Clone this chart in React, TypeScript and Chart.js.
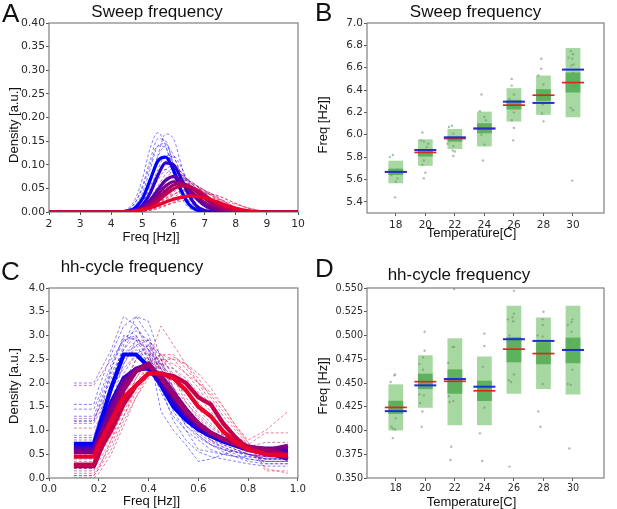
import React, { useEffect, useRef } from "react";
import { Chart, registerables } from "chart.js";
Chart.register(...registerables);

// ---------- shared ----------
const temperatures = [18, 20, 22, 24, 26, 28, 30];
const tempColors = ["rgb(0,0,255)", "rgb(45,0,210)", "rgb(90,0,170)", "rgb(125,0,135)", "rgb(160,0,110)", "rgb(195,0,75)", "rgb(235,0,45)"];

// ---------- Panel A: sweep frequency densities ----------
const sweepFreqGrid = [2, 4, 4.5, 4.75, 5, 5.25, 5.5, 5.75, 6, 6.25, 6.5, 6.75, 7, 7.25, 7.5, 7.75, 8, 8.5, 9, 10];
const sweepXTicks = [2, 3, 4, 5, 6, 7, 8, 9, 10];
const sweepDensityTicks = [0, 0.05, 0.1, 0.15, 0.2, 0.25, 0.3, 0.35, 0.4];

const sweepMean18 = [0, 0, 0.002, 0.008, 0.028, 0.068, 0.108, 0.116, 0.088, 0.045, 0.016, 0.004, 0.001, 0, 0, 0, 0, 0, 0, 0];
const sweepMean20 = [0, 0, 0.001, 0.004, 0.014, 0.04, 0.078, 0.104, 0.1, 0.07, 0.035, 0.012, 0.003, 0.001, 0, 0, 0, 0, 0, 0];
const sweepMean22 = [0, 0, 0.001, 0.003, 0.01, 0.025, 0.047, 0.067, 0.075, 0.066, 0.047, 0.028, 0.014, 0.006, 0.002, 0.001, 0, 0, 0, 0];
const sweepMean24 = [0, 0, 0.001, 0.003, 0.009, 0.02, 0.038, 0.055, 0.064, 0.06, 0.048, 0.033, 0.02, 0.01, 0.005, 0.002, 0.001, 0, 0, 0];
const sweepMean26 = [0, 0, 0, 0.002, 0.006, 0.015, 0.03, 0.045, 0.057, 0.06, 0.055, 0.043, 0.029, 0.017, 0.009, 0.004, 0.002, 0, 0, 0];
const sweepMean28 = [0, 0, 0, 0.001, 0.004, 0.011, 0.023, 0.037, 0.049, 0.055, 0.054, 0.047, 0.036, 0.024, 0.014, 0.007, 0.003, 0.001, 0, 0];
const sweepMean30 = [0, 0, 0.001, 0.002, 0.005, 0.009, 0.015, 0.021, 0.027, 0.031, 0.034, 0.033, 0.03, 0.025, 0.019, 0.013, 0.008, 0.002, 0, 0];

const sweepTrials18 = [
  [0, 0, 0.006, 0.025, 0.07, 0.135, 0.168, 0.14, 0.08, 0.032, 0.009, 0.002, 0, 0, 0, 0, 0, 0, 0, 0],
  [0, 0, 0.003, 0.012, 0.04, 0.09, 0.14, 0.145, 0.1, 0.05, 0.018, 0.005, 0.001, 0, 0, 0, 0, 0, 0, 0],
  [0, 0, 0.003, 0.01, 0.03, 0.055, 0.082, 0.09, 0.075, 0.048, 0.024, 0.009, 0.003, 0.001, 0, 0, 0, 0, 0, 0],
  [0, 0, 0.004, 0.018, 0.05, 0.1, 0.14, 0.135, 0.095, 0.05, 0.02, 0.006, 0.001, 0, 0, 0, 0, 0, 0, 0],
];
const sweepTrials20 = [
  [0, 0, 0.001, 0.005, 0.02, 0.06, 0.12, 0.165, 0.155, 0.1, 0.045, 0.014, 0.003, 0.001, 0, 0, 0, 0, 0, 0],
  [0, 0, 0.004, 0.018, 0.055, 0.11, 0.155, 0.15, 0.1, 0.048, 0.016, 0.004, 0.001, 0, 0, 0, 0, 0, 0, 0],
  [0, 0, 0.001, 0.004, 0.015, 0.04, 0.075, 0.108, 0.118, 0.095, 0.058, 0.027, 0.01, 0.003, 0.001, 0, 0, 0, 0, 0],
  [0, 0, 0.002, 0.008, 0.028, 0.07, 0.118, 0.14, 0.12, 0.075, 0.035, 0.012, 0.003, 0.001, 0, 0, 0, 0, 0, 0],
];
const sweepTrials22 = [
  [0, 0, 0.002, 0.007, 0.022, 0.05, 0.09, 0.12, 0.115, 0.08, 0.042, 0.017, 0.006, 0.002, 0, 0, 0, 0, 0, 0],
  [0, 0, 0.001, 0.003, 0.009, 0.022, 0.042, 0.062, 0.076, 0.078, 0.066, 0.047, 0.028, 0.014, 0.006, 0.002, 0.001, 0, 0, 0],
  [0, 0, 0.002, 0.006, 0.018, 0.04, 0.068, 0.09, 0.098, 0.085, 0.058, 0.032, 0.014, 0.005, 0.002, 0, 0, 0, 0, 0],
  [0, 0, 0.001, 0.004, 0.012, 0.03, 0.055, 0.08, 0.092, 0.085, 0.063, 0.038, 0.018, 0.007, 0.002, 0.001, 0, 0, 0, 0],
];
const sweepTrials24 = [
  [0, 0, 0.001, 0.004, 0.012, 0.028, 0.05, 0.072, 0.084, 0.08, 0.062, 0.04, 0.021, 0.009, 0.003, 0.001, 0, 0, 0, 0],
  [0, 0, 0, 0.002, 0.006, 0.015, 0.03, 0.047, 0.06, 0.068, 0.066, 0.055, 0.04, 0.025, 0.013, 0.006, 0.002, 0, 0, 0],
  [0, 0, 0.002, 0.006, 0.014, 0.026, 0.038, 0.047, 0.05, 0.047, 0.04, 0.031, 0.022, 0.014, 0.008, 0.004, 0.002, 0, 0, 0],
  [0, 0, 0.001, 0.003, 0.008, 0.018, 0.033, 0.05, 0.065, 0.072, 0.068, 0.054, 0.037, 0.022, 0.011, 0.005, 0.002, 0, 0, 0],
];
const sweepTrials26 = [
  [0, 0, 0, 0.002, 0.006, 0.016, 0.033, 0.053, 0.068, 0.074, 0.066, 0.048, 0.03, 0.015, 0.007, 0.003, 0.001, 0, 0, 0],
  [0, 0, 0, 0.001, 0.003, 0.008, 0.017, 0.029, 0.042, 0.052, 0.058, 0.055, 0.046, 0.034, 0.022, 0.012, 0.006, 0.001, 0, 0],
  [0, 0, 0, 0.001, 0.002, 0.005, 0.01, 0.018, 0.027, 0.036, 0.043, 0.045, 0.042, 0.035, 0.026, 0.017, 0.01, 0.002, 0, 0],
  [0, 0, 0, 0.001, 0.004, 0.011, 0.024, 0.041, 0.057, 0.066, 0.065, 0.055, 0.04, 0.026, 0.015, 0.008, 0.004, 0.001, 0, 0],
];
const sweepTrials28 = [
  [0, 0, 0, 0.001, 0.003, 0.009, 0.019, 0.032, 0.045, 0.056, 0.06, 0.056, 0.045, 0.032, 0.02, 0.011, 0.005, 0.001, 0, 0],
  [0, 0, 0, 0.001, 0.002, 0.006, 0.012, 0.021, 0.031, 0.041, 0.048, 0.05, 0.046, 0.038, 0.028, 0.018, 0.01, 0.003, 0, 0],
  [0, 0, 0, 0, 0.001, 0.003, 0.007, 0.013, 0.02, 0.027, 0.033, 0.038, 0.04, 0.038, 0.033, 0.026, 0.018, 0.006, 0.001, 0],
  [0, 0, 0, 0.001, 0.002, 0.006, 0.013, 0.024, 0.036, 0.046, 0.052, 0.052, 0.046, 0.037, 0.027, 0.018, 0.011, 0.003, 0, 0],
];
const sweepTrials30 = [
  [0, 0, 0, 0.001, 0.003, 0.008, 0.016, 0.027, 0.037, 0.045, 0.05, 0.049, 0.043, 0.034, 0.024, 0.015, 0.008, 0.002, 0, 0],
  [0, 0, 0.001, 0.002, 0.004, 0.007, 0.011, 0.015, 0.019, 0.023, 0.026, 0.029, 0.03, 0.029, 0.026, 0.021, 0.016, 0.007, 0.002, 0],
  [0, 0, 0, 0.001, 0.004, 0.01, 0.019, 0.029, 0.038, 0.044, 0.045, 0.04, 0.032, 0.023, 0.015, 0.008, 0.004, 0.001, 0, 0],
  [0, 0, 0, 0.001, 0.002, 0.004, 0.008, 0.014, 0.021, 0.028, 0.034, 0.038, 0.039, 0.037, 0.032, 0.025, 0.018, 0.007, 0.001, 0],
];

// ---------- Panel C: hh-cycle frequency densities ----------
const hhFreqGrid = [0.1, 0.18, 0.2, 0.25, 0.3, 0.35, 0.4, 0.45, 0.5, 0.55, 0.6, 0.65, 0.7, 0.75, 0.8, 0.87, 0.96];
const hhXTicks = [0, 0.2, 0.4, 0.6, 0.8, 1.0];
const hhDensityTicks = [0, 0.5, 1, 1.5, 2, 2.5, 3, 3.5, 4];

const hhMean18 = [0.72, 0.72, 1.05, 1.9, 2.6, 2.6, 2.35, 1.95, 1.5, 1.22, 1.02, 0.88, 0.77, 0.68, 0.6, 0.56, 0.56];
const hhMean20 = [0.65, 0.65, 0.9, 1.6, 2.1, 2.3, 2.3, 2.0, 1.6, 1.3, 1.05, 0.9, 0.8, 0.7, 0.63, 0.56, 0.4];
const hhMean22 = [0.6, 0.6, 0.85, 1.5, 2.05, 2.3, 2.4, 2.1, 1.7, 1.35, 1.1, 0.95, 0.83, 0.72, 0.65, 0.62, 0.62];
const hhMean24 = [0.55, 0.55, 0.8, 1.4, 2.0, 2.25, 2.35, 2.15, 1.8, 1.45, 1.15, 0.95, 0.82, 0.7, 0.62, 0.58, 0.68];
const hhMean26 = [0.25, 0.25, 0.5, 1.2, 1.85, 2.25, 2.4, 2.1, 1.75, 1.4, 1.15, 0.95, 0.82, 0.72, 0.66, 0.6, 0.5];
const hhMean28 = [0.28, 0.28, 0.55, 1.0, 1.55, 1.95, 2.2, 2.2, 2.15, 2.0, 1.7, 1.55, 1.15, 0.85, 0.62, 0.5, 0.45];
const hhMean30 = [0.45, 0.45, 0.7, 1.2, 1.7, 1.95, 2.2, 2.2, 2.1, 1.85, 1.5, 1.3, 0.98, 0.75, 0.6, 0.5, 0.48];

const hhTrials18 = [
  [1.55, 1.55, 1.9, 2.6, 3.2, 3.4, 3.0, 2.3, 1.6, 1.1, 0.85, 0.7, 0.6, 0.5, 0.4, 0.35, 0.35],
  [0.85, 0.85, 1.2, 2.3, 3.0, 2.9, 2.5, 1.9, 1.2, 0.8, 0.55, 0.45, 0.4, 0.35, 0.3, 0.25, 0.25],
  [0.6, 0.6, 0.9, 1.8, 2.6, 2.8, 2.4, 1.8, 1.3, 1.0, 0.8, 0.6, 0.5, 0.45, 0.45, 0.4, 0.4],
  [1.2, 1.2, 1.5, 2.2, 2.7, 3.2, 2.7, 1.4, 1.0, 0.7, 0.35, 0.4, 0.5, 0.45, 0.35, 0.3, 0.3],
];
const hhTrials20 = [
  [0.75, 0.75, 1.1, 2.0, 2.8, 3.4, 3.3, 2.5, 1.8, 1.3, 1.0, 0.8, 0.6, 0.55, 0.5, 0.45, 0.45],
  [1.3, 1.3, 1.6, 2.3, 2.9, 3.0, 2.6, 2.0, 1.5, 1.1, 0.9, 0.7, 0.6, 0.55, 0.5, 0.4, 0.4],
  [0.4, 0.4, 0.7, 1.6, 2.4, 2.9, 2.7, 2.1, 1.5, 1.2, 0.9, 0.7, 0.55, 0.45, 0.4, 0.35, 0.35],
  [1.45, 1.45, 1.7, 2.4, 2.95, 3.1, 2.9, 2.2, 1.4, 1.0, 0.6, 0.55, 0.5, 0.6, 0.5, 0.4, 0.4],
];
const hhTrials22 = [
  [2.0, 2.0, 2.2, 2.7, 3.4, 3.2, 2.8, 2.2, 1.7, 1.35, 1.0, 0.85, 0.7, 0.6, 0.5, 0.45, 0.45],
  [0.9, 0.9, 1.2, 1.9, 2.6, 2.9, 2.9, 2.5, 1.9, 1.4, 1.1, 0.9, 0.75, 0.65, 0.55, 0.5, 0.5],
  [0.3, 0.3, 0.6, 1.4, 2.2, 2.6, 2.8, 2.4, 1.8, 1.3, 1.0, 0.8, 0.65, 0.55, 0.45, 0.4, 0.4],
  [1.2, 1.2, 1.45, 2.1, 2.7, 3.0, 2.5, 2.0, 1.5, 1.25, 0.95, 0.75, 0.65, 0.55, 0.5, 0.42, 0.42],
];
const hhTrials24 = [
  [1.95, 1.95, 2.1, 2.5, 2.9, 2.95, 2.7, 2.3, 1.9, 1.5, 1.2, 1.0, 0.8, 0.7, 0.6, 0.55, 0.55],
  [0.8, 0.8, 1.1, 1.8, 2.4, 2.8, 2.9, 2.6, 2.1, 1.6, 1.25, 1.0, 0.8, 0.65, 0.55, 0.5, 0.5],
  [0.15, 0.15, 0.4, 1.1, 1.9, 2.5, 2.7, 2.4, 1.9, 1.4, 1.05, 0.8, 0.7, 0.6, 0.5, 0.45, 0.45],
  [1.15, 1.15, 1.35, 1.9, 2.5, 2.7, 2.6, 2.3, 1.8, 1.4, 1.1, 0.9, 0.75, 0.65, 0.55, 0.5, 0.5],
];
const hhTrials26 = [
  [0.5, 0.5, 0.7, 1.3, 2.0, 2.5, 2.8, 2.6, 2.3, 2.0, 1.7, 1.4, 1.1, 0.85, 0.7, 0.6, 0.6],
  [0.2, 0.2, 0.4, 1.0, 1.7, 2.2, 2.6, 2.5, 2.2, 1.8, 1.45, 1.15, 0.9, 0.75, 0.6, 0.5, 0.5],
  [1.25, 1.25, 1.45, 1.9, 2.3, 2.6, 2.5, 2.2, 1.9, 1.6, 1.3, 1.05, 0.9, 0.75, 0.65, 0.75, 0.75],
  [0.05, 0.05, 0.2, 0.8, 1.5, 2.1, 2.5, 2.4, 2.1, 1.7, 1.35, 1.1, 0.9, 0.7, 0.5, 0.35, 0.35],
];
const hhTrials28 = [
  [0.35, 0.35, 0.5, 1.0, 1.6, 2.1, 2.5, 3.2, 2.8, 2.4, 2.0, 1.6, 1.2, 0.9, 0.7, 0.5, 0.5],
  [0.1, 0.1, 0.25, 0.7, 1.3, 1.9, 2.4, 2.6, 2.5, 2.2, 1.9, 1.5, 1.15, 0.85, 0.6, 0.45, 0.45],
  [1.05, 1.05, 1.2, 1.6, 2.0, 2.3, 2.45, 2.3, 2.0, 1.8, 1.6, 1.3, 1.0, 0.8, 0.7, 0.95, 0.95],
  [0.0, 0.0, 0.1, 0.5, 1.1, 1.7, 2.2, 2.4, 2.3, 2.1, 1.8, 1.5, 1.2, 0.9, 0.65, 0.3, 0.3],
];
const hhTrials30 = [
  [0.45, 0.45, 0.6, 1.0, 1.5, 2.0, 2.4, 2.6, 2.6, 2.3, 2.0, 1.8, 1.5, 1.1, 0.8, 1.0, 1.4],
  [0.2, 0.2, 0.35, 0.8, 1.3, 1.8, 2.2, 2.5, 2.5, 2.4, 2.1, 1.7, 1.3, 1.0, 0.7, 0.5, 0.5],
  [0.05, 0.05, 0.2, 0.6, 1.2, 1.7, 2.1, 2.4, 2.55, 2.4, 2.2, 1.9, 1.5, 1.1, 0.75, 0.15, 0.15],
  [0.3, 0.3, 0.45, 0.9, 1.4, 1.9, 2.3, 2.5, 2.4, 2.2, 2.0, 1.75, 1.4, 1.05, 0.75, 0.2, 0.1],
];

// ---------- Panel B: sweep frequency vs temperature ----------
const sweepFreqTicks = [5.4, 5.6, 5.8, 6.0, 6.2, 6.4, 6.6, 6.8, 7.0];
const sweepOuterLow = [5.566, 5.722, 5.873, 5.895, 6.118, 6.178, 6.157];
const sweepOuterHigh = [5.768, 5.959, 6.052, 6.207, 6.417, 6.53, 6.776];
const sweepInnerLow = [5.64, 5.805, 5.938, 6.013, 6.226, 6.303, 6.378];
const sweepInnerHigh = [5.697, 5.87, 5.983, 6.103, 6.312, 6.408, 6.557];
const sweepBlueLine = [5.668, 5.864, 5.977, 6.056, 6.296, 6.285, 6.583];
const sweepRedLine = [5.668, 5.842, 5.966, 6.056, 6.265, 6.354, 6.467];
const sweepPoints = [
  [17.6, 5.8], [17.8, 5.82], [18.1, 5.69], [17.9, 5.68], [18.2, 5.66], [17.7, 5.64], [18.0, 5.58], [18.1, 5.61], [17.95, 5.44],
  [19.8, 6.02], [19.7, 5.95], [19.9, 5.94], [20.1, 5.89], [20.2, 5.92], [19.6, 5.83], [19.9, 5.77], [19.8, 5.73], [20.0, 5.66], [19.9, 5.61],
  [21.8, 6.08], [21.6, 6.07], [21.9, 6.01], [21.5, 5.92], [21.9, 5.9], [21.85, 5.86], [22.0, 5.85], [21.9, 5.81],
  [23.8, 6.36], [23.7, 6.21], [24.0, 6.16], [24.1, 6.13], [23.6, 6.08], [23.8, 6.0], [24.0, 5.91], [23.9, 5.77],
  [25.85, 6.5], [25.85, 6.44], [26.0, 6.36], [25.7, 6.32], [26.1, 6.27], [26.0, 6.2], [25.85, 6.13], [26.0, 6.06], [25.95, 5.95],
  [27.85, 6.68], [27.85, 6.59], [27.65, 6.53], [28.0, 6.45], [27.8, 6.35], [27.95, 6.27], [27.9, 6.19], [28.0, 6.12],
  [29.85, 6.75], [30.0, 6.72], [29.7, 6.69], [29.95, 6.68], [30.05, 6.63], [29.9, 6.62], [30.0, 6.55], [30.05, 6.43], [29.85, 6.24], [30.0, 6.22], [29.95, 5.59],
];

// ---------- Panel D: hh-cycle frequency vs temperature ----------
const hhFreqTicks = [0.35, 0.375, 0.4, 0.425, 0.45, 0.475, 0.5, 0.525, 0.55];
const hhOuterLow = [0.4, 0.4239, 0.4056, 0.4056, 0.4387, 0.4436, 0.438];
const hhOuterHigh = [0.4486, 0.4792, 0.4972, 0.4778, 0.5313, 0.519, 0.5313];
const hhInnerLow = [0.4175, 0.4436, 0.4387, 0.431, 0.4718, 0.4697, 0.4708];
const hhInnerHigh = [0.4313, 0.4598, 0.4644, 0.4524, 0.4982, 0.493, 0.4978];
const hhBlueLine = [0.4204, 0.4475, 0.4542, 0.4461, 0.4961, 0.4943, 0.4848];
const hhRedLine = [0.4243, 0.4514, 0.4518, 0.4418, 0.4856, 0.481, 0.4848];
const hhPoints = [
  [17.95, 0.459], [17.9, 0.458], [17.65, 0.451], [17.9, 0.429], [17.7, 0.423], [18.0, 0.413], [17.7, 0.404], [17.8, 0.402], [17.95, 0.401], [17.8, 0.392],
  [19.95, 0.504], [19.95, 0.484], [19.85, 0.477], [19.6, 0.47], [19.85, 0.464], [19.6, 0.438], [19.9, 0.437], [19.65, 0.429], [19.8, 0.42], [19.75, 0.404],
  [21.95, 0.549], [21.85, 0.488], [21.95, 0.488], [21.55, 0.471], [21.6, 0.436], [21.9, 0.431], [21.65, 0.43], [21.75, 0.383], [21.7, 0.369],
  [24.0, 0.502], [24.0, 0.489], [23.9, 0.467], [23.7, 0.437], [24.0, 0.424], [23.7, 0.397], [23.85, 0.368],
  [26.0, 0.547], [26.0, 0.523], [25.9, 0.519], [25.6, 0.517], [25.95, 0.515], [25.7, 0.5], [26.0, 0.459], [25.65, 0.453], [25.8, 0.451], [25.7, 0.362],
  [28.0, 0.525], [27.95, 0.517], [27.95, 0.511], [27.6, 0.5], [27.95, 0.499], [28.0, 0.487], [27.7, 0.487], [27.95, 0.449], [27.65, 0.42], [27.8, 0.404],
  [29.95, 0.517], [29.9, 0.514], [29.65, 0.511], [29.9, 0.504], [29.7, 0.493], [30.0, 0.477], [29.95, 0.464], [29.65, 0.449], [29.85, 0.448], [29.75, 0.381],
];

// ---------- helpers ----------
const framePlugin = {
  id: "frame",
  beforeDatasetsDraw(chart: any) {
    const { ctx, chartArea } = chart;
    ctx.save();
    ctx.strokeStyle = "#808080";
    ctx.lineWidth = 1.2;
    ctx.strokeRect(chartArea.left, chartArea.top, chartArea.right - chartArea.left, chartArea.bottom - chartArea.top);
    ctx.restore();
  },
};

function axis(min: number, max: number, ticks: number[], decimals: number, fix: { width?: number; height?: number }, pad: number, fontSize: number) {
  return {
    type: "linear",
    min,
    max,
    offset: false,
    afterBuildTicks: (s: any) => {
      s.ticks = ticks.map((v) => ({ value: v }));
    },
    afterFit: (s: any) => {
      if (fix.width !== undefined) s.width = fix.width;
      if (fix.height !== undefined) s.height = fix.height;
    },
    grid: { display: true, offset: false, drawOnChartArea: false, drawTicks: true, tickLength: 3, color: "#555", lineWidth: 1 },
    border: { display: false },
    ticks: {
      autoSkip: false,
      maxRotation: 0,
      padding: pad,
      color: "#2a2a2a",
      font: { family: "DejaVu Sans", size: fontSize },
      callback: (v: any) => Number(v).toFixed(decimals),
    },
  };
}

function withAlpha(c: string, a: number) {
  return c.replace("rgb(", "rgba(").replace(")", `,${a})`);
}

function densityDatasets(grid: number[], means: number[][], trials: number[][][], thick: number, smooth: boolean) {
  const ds: any[] = [];
  const interp = smooth ? { cubicInterpolationMode: "monotone" } : { tension: 0 };
  means.forEach((vals, ti) => {
    ds.push({
      data: grid.map((x, i) => ({ x, y: vals[i] })),
      borderColor: tempColors[ti],
      borderWidth: thick,
      pointRadius: 0,
      fill: false,
      order: 6 - ti,
      ...interp,
    });
  });
  const maxN = Math.max(...trials.map((t) => t.length));
  for (let k = 0; k < maxN; k++) {
    trials.forEach((group, ti) => {
      const vals = group[k];
      if (!vals) return;
      ds.push({
        data: grid.map((x, i) => ({ x, y: vals[i] })),
        borderColor: withAlpha(tempColors[ti], 0.5),
        borderWidth: 1,
        borderDash: [3, 2],
        pointRadius: 0,
        fill: false,
        order: 20,
        ...interp,
      });
    });
  }
  return ds;
}

function boxDatasets(outerLo: number[], outerHi: number[], innerLo: number[], innerHi: number[], blue: number[], red: number[], pts: number[][]) {
  return [
    {
      type: "bar",
      data: temperatures.map((t, i) => ({ x: t, y: [outerLo[i], outerHi[i]] })),
      backgroundColor: "#a8d8a2",
      borderWidth: 0,
      grouped: false,
      barPercentage: 0.5,
      categoryPercentage: 1,
      order: 5,
    },
    {
      type: "bar",
      data: temperatures.map((t, i) => ({ x: t, y: [innerLo[i], innerHi[i]] })),
      backgroundColor: "#5db35d",
      borderWidth: 0,
      grouped: false,
      barPercentage: 0.5,
      categoryPercentage: 1,
      order: 4,
    },
    {
      type: "scatter",
      data: pts.map((p) => ({ x: p[0], y: p[1] })),
      pointRadius: 1.2,
      pointBackgroundColor: "rgba(110,150,110,0.6)",
      pointBorderWidth: 0,
      order: 3,
    },
    {
      type: "scatter",
      data: temperatures.map((t, i) => ({ x: t, y: red[i] })),
      pointStyle: "line",
      pointRadius: 11,
      pointBorderColor: "#e0241f",
      pointBorderWidth: 1.7,
      order: 2,
    },
    {
      type: "scatter",
      data: temperatures.map((t, i) => ({ x: t, y: blue[i] })),
      pointStyle: "line",
      pointRadius: 11,
      pointBorderColor: "#1f2fd0",
      pointBorderWidth: 2,
      order: 1,
    },
  ];
}

function baseOptions(padding: any, scales: any) {
  return {
    responsive: false,
    animation: false,
    events: [],
    layout: { padding },
    plugins: { legend: { display: false }, tooltip: { enabled: false }, title: { display: false } },
    scales,
  };
}

const configA = () => ({
  type: "line",
  data: {
    datasets: densityDatasets(
      sweepFreqGrid,
      [sweepMean18, sweepMean20, sweepMean22, sweepMean24, sweepMean26, sweepMean28, sweepMean30],
      [sweepTrials18, sweepTrials20, sweepTrials22, sweepTrials24, sweepTrials26, sweepTrials28, sweepTrials30],
      3.2,
      true
    ),
  },
  options: baseOptions(
    { top: 23, right: 10, left: 0, bottom: 0 },
    {
      x: axis(2, 10, sweepXTicks, 0, { height: 43 }, 3, 10.8),
      y: axis(0, 0.4, sweepDensityTicks, 2, { width: 49 }, 1, 10.8),
    }
  ),
  plugins: [framePlugin],
});

const configC = () => ({
  type: "line",
  data: {
    datasets: densityDatasets(
      hhFreqGrid,
      [hhMean18, hhMean20, hhMean22, hhMean24, hhMean26, hhMean28, hhMean30],
      [hhTrials18, hhTrials20, hhTrials22, hhTrials24, hhTrials26, hhTrials28, hhTrials30],
      4.2,
      false
    ),
  },
  options: baseOptions(
    { top: 33, right: 10, left: 0, bottom: 0 },
    {
      x: axis(0, 1, hhXTicks, 1, { height: 31 }, 2, 10.2),
      y: axis(0, 4, hhDensityTicks, 1, { width: 49 }, 1, 10.2),
    }
  ),
  plugins: [framePlugin],
});

const configB = () => ({
  type: "bar",
  data: { datasets: boxDatasets(sweepOuterLow, sweepOuterHigh, sweepInnerLow, sweepInnerHigh, sweepBlueLine, sweepRedLine, sweepPoints) },
  options: baseOptions(
    { top: 23, right: 1, left: 0, bottom: 0 },
    {
      x: axis(16.05, 32.1, temperatures, 0, { height: 42 }, 3, 10.5),
      y: axis(5.3, 7.0, sweepFreqTicks, 1, { width: 59 }, 1, 10.5),
    }
  ),
  plugins: [framePlugin],
});

const configD = () => ({
  type: "bar",
  data: { datasets: boxDatasets(hhOuterLow, hhOuterHigh, hhInnerLow, hhInnerHigh, hhBlueLine, hhRedLine, hhPoints) },
  options: baseOptions(
    { top: 33, right: 2, left: 0, bottom: 0 },
    {
      x: axis(16.05, 32.1, temperatures, 0, { height: 31 }, 2, 9.6),
      y: axis(0.35, 0.55, hhFreqTicks, 3, { width: 59 }, 1, 9.6),
    }
  ),
  plugins: [framePlugin],
});

function ChartBox({ make, left, top, width, height }: { make: () => any; left: number; top: number; width: number; height: number }) {
  const ref = useRef<HTMLCanvasElement | null>(null);
  useEffect(() => {
    if (!ref.current) return;
    const chart = new Chart(ref.current, make());
    return () => chart.destroy();
  }, []);
  return <canvas ref={ref} width={width} height={height} style={{ position: "absolute", left, top, width, height }} />;
}

const LABEL_FONT = "'Liberation Sans', Arial, sans-serif";

function HText({ text, cx, left, baseline, size }: { text: string; cx?: number; left?: number; baseline: number; size: number }) {
  const style: any = {
    position: "absolute",
    top: baseline - 0.8465 * size,
    fontFamily: LABEL_FONT,
    fontSize: size,
    lineHeight: 1,
    whiteSpace: "nowrap",
    color: "#111",
  };
  if (cx !== undefined) {
    style.left = cx;
    style.transform = "translateX(-50%)";
  } else {
    style.left = left;
  }
  return <div style={style}>{text}</div>;
}

function VText({ text, cx, cy, size }: { text: string; cx: number; cy: number; size: number }) {
  return (
    <div
      style={{
        position: "absolute",
        left: cx,
        top: cy,
        transform: "translate(-50%, -50%) rotate(-90deg)",
        fontFamily: LABEL_FONT,
        fontSize: size,
        lineHeight: 1,
        whiteSpace: "nowrap",
        color: "#111",
      }}
    >
      {text}
    </div>
  );
}

export default function App() {
  return (
    <div style={{ position: "absolute", left: 0, top: 0, width: 617, height: 509, background: "#fff", overflow: "hidden" }}>
      <ChartBox make={configA} left={0} top={0} width={308} height={255} />
      <ChartBox make={configB} left={308} top={0} width={309} height={255} />
      <ChartBox make={configC} left={0} top={255} width={308} height={254} />
      <ChartBox make={configD} left={308} top={255} width={309} height={254} />

      <HText text="A" left={2} baseline={22} size={26} />
      <HText text="B" left={315} baseline={21} size={26} />
      <HText text="C" left={1} baseline={280} size={26} />
      <HText text="D" left={315} baseline={277} size={26} />

      <HText text="Sweep frequency" cx={157} baseline={17.3} size={17} />
      <HText text="Sweep frequency" cx={475.5} baseline={17.3} size={17} />
      <HText text="hh-cycle frequency" cx={132} baseline={272.3} size={17} />
      <HText text="hh-cycle frequency" cx={459} baseline={280} size={17} />

      <HText text="Freq [Hz]]" cx={151} baseline={240.7} size={13} />
      <HText text="Temperature[C]" cx={471.5} baseline={237} size={13} />
      <HText text="Freq [Hz]]" cx={151.5} baseline={505} size={13} />
      <HText text="Temperature[C]" cx={471.5} baseline={505.7} size={13} />

      <VText text="Density [a.u.]" cx={12.8} cy={125} size={13} />
      <VText text="Freq [Hz]]" cx={322.3} cy={124.5} size={13} />
      <VText text="Density [a.u.]" cx={12.8} cy={385.5} size={13} />
      <VText text="Freq [Hz]]" cx={321.8} cy={386} size={13} />
    </div>
  );
}
